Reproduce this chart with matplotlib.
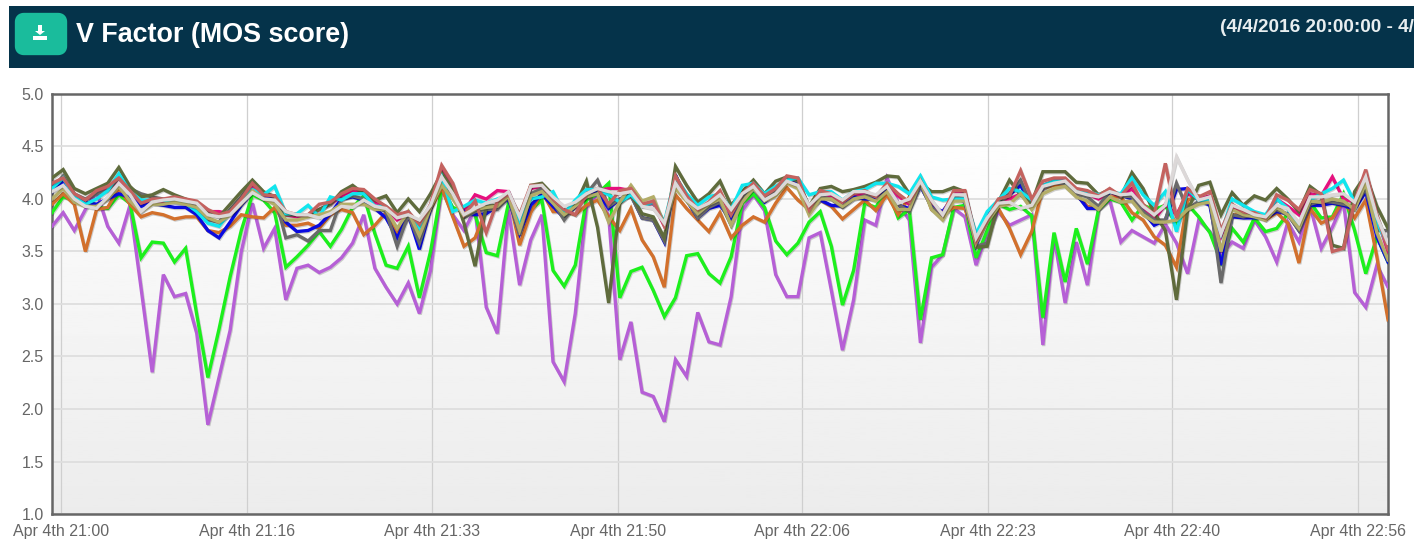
import matplotlib
matplotlib.use('Agg')
import matplotlib.pyplot as plt
import matplotlib.patheffects as pe
from matplotlib.patches import FancyBboxPatch, Rectangle, Polygon
import numpy as np

plt.rcParams['font.family'] = ['Liberation Sans', 'DejaVu Sans']

title = 'V Factor (MOS score)'
date_range = '(4/4/2016 20:00:00 - 4/'

y_ticks = [1.0, 1.5, 2.0, 2.5, 3.0, 3.5, 4.0, 4.5, 5.0]
x_ticks = [0.8, 17.5, 34.1, 50.8, 67.4, 84.1, 100.6, 117.3]
x_labels = ['Apr 4th 21:00', 'Apr 4th 21:16', 'Apr 4th 21:33', 'Apr 4th 21:50',
            'Apr 4th 22:06', 'Apr 4th 22:23', 'Apr 4th 22:40', 'Apr 4th 22:56']

minutes = list(range(121))

purple = [3.74, 3.87, 3.70, 3.90, 4.07, 3.74, 3.58, 3.94, 3.15, 2.35,
          3.28, 3.07, 3.10, 2.72, 1.85, 2.30, 2.75, 3.50, 3.96, 3.53,
          3.72, 3.04, 3.34, 3.37, 3.30, 3.35, 3.44, 3.58, 3.85, 3.34,
          3.16, 3.00, 3.20, 2.91, 3.32, 4.10, 3.85, 3.70, 3.90, 2.97,
          2.72, 3.90, 3.18, 3.61, 3.85, 2.45, 2.26, 2.91, 3.92, 4.05,
          3.84, 2.47, 2.83, 2.16, 2.12, 1.88, 2.47, 2.31, 2.92, 2.64,
          2.61, 3.07, 3.89, 4.04, 3.89, 3.28, 3.07, 3.07, 3.63, 3.68,
          3.13, 2.56, 3.04, 3.80, 3.75, 4.20, 3.96, 3.80, 2.63, 3.35,
          3.47, 3.91, 3.83, 3.37, 3.68, 3.88, 3.75, 3.80, 3.85, 2.61,
          3.64, 3.01, 3.59, 3.18, 3.90, 3.99, 3.59, 3.70, 3.64, 3.58,
          3.76, 3.58, 3.29, 3.80, 3.69, 3.47, 3.59, 3.53, 3.80, 3.64,
          3.40, 3.78, 3.59, 3.93, 3.53, 3.73, 3.97, 3.11, 2.97, 3.37,
          3.16]

green = [3.87, 4.02, 3.99, 3.94, 3.92, 3.91, 4.04, 3.96, 3.44, 3.59,
         3.58, 3.40, 3.53, 2.90, 2.30, 2.76, 3.26, 3.70, 4.04, 3.99,
         3.87, 3.35, 3.45, 3.56, 3.69, 3.55, 3.71, 3.92, 4.03, 3.67,
         3.37, 3.34, 3.55, 3.06, 3.50, 4.10, 3.92, 3.88, 3.85, 3.49,
         3.46, 3.96, 3.76, 3.90, 3.99, 3.32, 3.17, 3.37, 3.99, 4.05,
         4.15, 3.06, 3.31, 3.35, 3.13, 2.88, 3.06, 3.46, 3.48, 3.29,
         3.20, 3.45, 3.96, 4.05, 3.92, 3.60, 3.47, 3.58, 3.78, 3.88,
         3.55, 2.99, 3.32, 3.96, 3.92, 4.10, 3.82, 3.90, 2.85, 3.44,
         3.47, 3.92, 3.94, 3.44, 3.70, 3.95, 3.90, 3.93, 3.84, 2.87,
         3.68, 3.21, 3.72, 3.38, 3.90, 4.00, 3.97, 3.80, 3.94, 3.90,
         3.94, 3.75, 3.95, 3.83, 3.68, 3.40, 3.72, 3.59, 3.82, 3.69,
         3.72, 3.86, 3.75, 3.97, 3.82, 3.83, 4.05, 3.70, 3.29, 3.64,
         3.40]

orange = [3.95, 4.05, 3.95, 3.50, 3.90, 3.92, 4.10, 3.95, 3.83, 3.87,
          3.85, 3.81, 3.83, 3.83, 3.70, 3.68, 3.74, 3.85, 3.83, 3.82,
          3.92, 3.75, 3.75, 3.77, 3.72, 3.85, 3.90, 3.87, 3.66, 3.75,
          3.87, 3.68, 3.82, 3.70, 3.90, 4.11, 3.83, 3.55, 3.63, 3.90,
          3.93, 4.05, 3.56, 3.87, 4.07, 3.88, 3.88, 3.85, 3.94, 3.99,
          3.83, 3.70, 3.91, 3.61, 3.45, 3.16, 4.04, 3.91, 3.80, 3.69,
          3.87, 3.63, 3.75, 3.83, 3.78, 3.96, 4.11, 3.99, 3.90, 3.99,
          3.93, 3.81, 3.90, 3.99, 3.89, 4.04, 3.85, 4.02, 4.20, 3.90,
          3.85, 3.92, 3.91, 3.60, 3.82, 3.91, 3.72, 3.47, 3.69, 4.10,
          4.13, 4.13, 4.04, 3.93, 3.91, 4.02, 4.02, 3.87, 3.80, 3.64,
          3.56, 3.35, 3.99, 4.03, 3.95, 3.50, 3.85, 3.85, 3.85, 3.80,
          3.87, 3.77, 3.39, 3.91, 3.77, 3.82, 3.99, 3.82, 3.99, 3.45,
          2.85]

pink = [4.13, 4.18, 4.03, 3.99, 4.06, 4.10, 4.17, 4.06, 3.96, 3.98,
        3.98, 4.00, 3.98, 3.96, 3.88, 3.88, 3.86, 3.98, 4.12, 4.03,
        4.03, 3.85, 3.83, 3.84, 3.90, 3.95, 4.03, 4.08, 4.06, 3.97,
        3.92, 3.80, 3.86, 3.76, 3.93, 4.28, 4.12, 3.88, 4.04, 4.00,
        4.08, 4.07, 3.82, 4.10, 4.12, 3.98, 3.88, 3.92, 4.02, 4.08,
        4.10, 4.10, 4.08, 3.94, 3.96, 3.74, 4.18, 4.02, 3.88, 3.95,
        4.06, 3.84, 4.03, 4.13, 4.00, 4.08, 4.20, 4.18, 3.90, 4.05,
        4.03, 3.96, 4.03, 4.05, 4.02, 4.13, 4.03, 3.95, 4.15, 3.95,
        3.83, 4.05, 4.05, 3.62, 3.80, 3.97, 4.00, 4.05, 3.98, 4.13,
        4.17, 4.17, 4.07, 4.05, 4.00, 4.07, 4.02, 4.10, 3.92, 3.80,
        3.95, 3.85, 4.05, 4.00, 4.03, 3.65, 3.93, 3.87, 3.85, 3.82,
        4.00, 3.93, 3.85, 4.05, 4.03, 4.21, 4.00, 3.97, 4.25, 3.82,
        3.50]

blue = [4.07, 4.17, 4.02, 3.97, 3.95, 4.00, 4.05, 4.02, 3.93, 3.96,
        3.94, 3.92, 3.92, 3.85, 3.70, 3.63, 3.78, 3.94, 4.07, 4.00,
        4.00, 3.78, 3.69, 3.70, 3.75, 3.86, 4.00, 4.02, 3.99, 3.91,
        3.82, 3.63, 3.85, 3.52, 3.91, 4.18, 4.02, 3.88, 3.85, 3.86,
        3.93, 4.00, 3.67, 3.94, 4.05, 3.93, 3.82, 3.93, 4.02, 4.07,
        3.91, 4.00, 4.04, 3.82, 3.80, 3.59, 4.23, 3.99, 3.82, 3.91,
        3.94, 3.80, 3.99, 4.10, 3.97, 4.05, 4.17, 4.15, 3.90, 3.99,
        3.94, 3.93, 4.02, 4.00, 4.00, 4.09, 3.94, 3.91, 4.12, 3.93,
        3.88, 4.03, 3.97, 3.56, 3.83, 3.99, 4.04, 4.13, 3.93, 4.10,
        4.17, 4.17, 4.05, 3.91, 3.91, 4.07, 4.04, 4.00, 3.88, 3.75,
        3.80, 4.09, 4.10, 3.99, 3.94, 3.37, 3.83, 3.82, 3.82, 3.82,
        3.88, 3.86, 3.70, 3.94, 3.94, 3.96, 3.94, 3.90, 4.07, 3.64,
        3.40]

gray = [4.10, 4.22, 4.05, 4.00, 4.05, 4.08, 4.20, 4.10, 4.05, 4.02,
        4.00, 3.99, 3.97, 3.92, 3.80, 3.78, 3.90, 4.02, 4.17, 4.05,
        4.03, 3.63, 3.66, 3.60, 3.70, 3.70, 4.00, 4.03, 4.00, 3.93,
        3.88, 3.55, 3.85, 3.58, 3.92, 4.18, 4.03, 3.82, 3.88, 3.90,
        3.90, 4.02, 3.66, 4.05, 4.10, 3.97, 3.80, 3.95, 4.05, 4.18,
        3.93, 4.00, 4.03, 3.82, 3.80, 3.60, 4.22, 4.00, 3.82, 3.92,
        3.97, 3.75, 4.00, 4.15, 4.00, 4.07, 4.18, 4.12, 3.88, 4.02,
        4.00, 3.92, 4.00, 4.03, 4.03, 4.12, 3.95, 3.88, 4.13, 3.92,
        3.82, 4.02, 4.00, 3.55, 3.58, 3.95, 4.05, 4.18, 3.93, 4.10,
        4.15, 4.15, 4.05, 4.02, 3.93, 4.08, 4.03, 4.02, 3.88, 3.80,
        3.80, 4.15, 3.90, 3.98, 4.00, 3.20, 3.85, 3.83, 3.85, 3.82,
        3.90, 3.85, 3.70, 3.95, 3.98, 3.97, 3.95, 3.93, 4.10, 3.70,
        3.70]

olive = [4.20, 4.28, 4.10, 4.05, 4.10, 4.15, 4.30, 4.12, 4.02, 4.04,
         4.09, 4.04, 4.00, 3.96, 3.86, 3.83, 3.95, 4.07, 4.18, 4.07,
         4.02, 3.85, 3.85, 3.85, 3.90, 3.95, 4.07, 4.13, 4.05, 3.99,
         4.03, 3.87, 4.00, 3.88, 4.05, 4.25, 4.09, 3.77, 3.36, 3.93,
         3.94, 4.05, 3.75, 4.13, 4.15, 4.04, 3.85, 3.94, 4.17, 3.73,
         3.01, 3.96, 4.05, 3.86, 3.83, 3.63, 4.31, 4.13, 3.97, 4.05,
         4.17, 3.94, 4.07, 4.18, 4.05, 4.17, 4.21, 4.17, 3.93, 4.10,
         4.12, 4.07, 4.09, 4.12, 4.16, 4.22, 4.21, 4.05, 4.15, 4.07,
         4.07, 4.11, 4.07, 3.54, 3.55, 3.97, 4.18, 4.04, 3.96, 4.26,
         4.26, 4.26, 4.16, 4.15, 4.04, 4.09, 4.02, 4.25, 4.10, 3.87,
         3.70, 3.04, 3.89, 4.13, 4.16, 3.85, 4.06, 3.94, 4.03, 3.99,
         4.10, 4.00, 3.88, 4.12, 4.04, 3.56, 3.53, 4.07, 4.23, 3.93,
         3.72]

cyan = [4.10, 4.20, 4.02, 3.95, 4.00, 4.08, 4.24, 4.07, 3.99, 3.99,
        3.99, 3.97, 3.96, 3.88, 3.77, 3.74, 3.88, 3.97, 4.09, 4.04,
        4.12, 3.86, 3.86, 3.94, 3.83, 4.02, 3.99, 4.05, 4.05, 3.93,
        3.93, 3.83, 3.88, 3.72, 3.94, 4.21, 3.88, 3.93, 3.99, 3.96,
        4.00, 4.04, 3.78, 4.00, 4.02, 4.07, 3.86, 3.99, 4.09, 4.09,
        4.04, 3.97, 4.04, 3.93, 3.97, 3.78, 4.21, 4.05, 3.94, 4.02,
        4.05, 3.90, 4.13, 4.15, 4.05, 4.12, 4.18, 4.20, 4.04, 4.07,
        4.07, 3.99, 4.07, 4.09, 4.15, 4.15, 4.12, 4.05, 4.22, 4.02,
        3.99, 4.00, 4.00, 3.67, 3.88, 3.99, 4.10, 4.07, 3.99, 4.13,
        4.17, 4.17, 4.09, 4.07, 4.04, 4.07, 4.05, 4.20, 4.04, 3.94,
        4.07, 3.69, 4.09, 3.99, 3.99, 3.67, 4.00, 3.94, 3.88, 3.85,
        4.00, 3.91, 3.74, 3.99, 4.05, 4.10, 4.18, 3.97, 4.15, 3.78,
        3.55]

khaki = [4.00, 4.10, 3.97, 3.93, 3.93, 4.00, 4.12, 3.98, 3.88, 3.95,
         3.95, 3.97, 3.95, 3.92, 3.82, 3.78, 3.85, 3.95, 4.08, 4.00,
         3.95, 3.80, 3.80, 3.83, 3.85, 3.88, 3.95, 3.95, 3.95, 3.90,
         3.90, 3.72, 3.88, 3.65, 3.92, 4.13, 4.00, 3.84, 3.90, 3.92,
         3.93, 4.03, 3.70, 4.03, 4.07, 3.96, 3.85, 3.93, 4.02, 4.05,
         3.78, 3.97, 4.13, 3.98, 4.02, 3.75, 4.10, 3.98, 3.86, 3.95,
         4.00, 3.75, 3.97, 4.10, 3.98, 4.03, 4.15, 4.10, 3.85, 4.00,
         4.00, 3.93, 4.00, 4.02, 3.98, 4.07, 3.90, 3.90, 4.17, 3.90,
         3.80, 3.98, 3.98, 3.58, 3.78, 3.93, 3.95, 4.05, 3.90, 4.05,
         4.10, 4.12, 4.02, 3.98, 3.90, 4.02, 3.97, 3.98, 3.85, 3.78,
         3.78, 3.80, 3.90, 3.95, 3.97, 3.50, 3.90, 3.85, 3.83, 3.80,
         3.92, 3.85, 3.72, 3.98, 3.97, 4.00, 3.98, 3.90, 4.15, 3.68,
         3.42]

red = [4.15, 4.20, 4.05, 3.99, 4.08, 4.12, 4.20, 4.08, 3.96, 4.00,
       4.00, 4.02, 4.00, 3.98, 3.90, 3.85, 3.88, 4.00, 4.15, 4.04,
       4.03, 3.88, 3.85, 3.85, 3.95, 3.97, 4.05, 4.10, 4.09, 4.00,
       3.93, 3.85, 3.88, 3.76, 3.95, 4.32, 4.15, 3.85, 3.98, 3.68,
       3.98, 4.05, 3.85, 4.13, 4.13, 4.00, 3.90, 3.85, 4.05, 4.10,
       3.95, 4.08, 4.10, 3.95, 3.98, 3.75, 4.22, 4.03, 3.90, 3.97,
       4.08, 3.85, 4.05, 4.15, 4.03, 4.10, 4.22, 4.20, 3.90, 4.08,
       4.05, 3.97, 4.05, 4.08, 4.02, 4.15, 4.05, 3.97, 4.17, 3.98,
       3.85, 4.08, 4.08, 3.60, 3.80, 4.00, 4.03, 4.27, 4.00, 4.17,
       4.20, 4.20, 4.10, 4.08, 4.03, 4.10, 4.03, 4.15, 3.95, 3.85,
       4.34, 3.82, 4.10, 4.02, 4.07, 3.70, 3.95, 3.88, 3.87, 3.82,
       4.04, 3.99, 3.90, 4.09, 4.05, 3.50, 3.53, 3.97, 4.28, 3.85,
       3.52]

light = [4.07, 4.13, 4.00, 3.93, 3.91, 4.02, 4.15, 4.04, 3.88, 3.97,
         3.99, 4.00, 3.98, 3.96, 3.85, 3.83, 3.85, 3.96, 4.06, 4.00,
         3.99, 3.88, 3.85, 3.85, 3.82, 3.86, 3.93, 3.92, 3.99, 3.93,
         3.91, 3.82, 3.85, 3.80, 3.94, 4.21, 4.05, 3.85, 3.91, 3.96,
         3.99, 4.07, 3.83, 4.12, 4.13, 4.02, 3.93, 3.97, 4.05, 4.10,
         4.07, 4.05, 4.07, 3.93, 3.91, 3.77, 4.15, 3.99, 3.91, 3.96,
         4.04, 3.90, 4.05, 4.12, 3.99, 4.05, 4.17, 4.13, 3.94, 4.04,
         4.05, 3.99, 4.07, 4.07, 4.04, 4.12, 3.96, 4.00, 4.17, 3.99,
         3.85, 4.04, 4.04, 3.63, 3.82, 3.96, 3.97, 3.91, 3.94, 4.12,
         4.15, 4.17, 4.07, 4.04, 4.02, 4.07, 4.04, 4.05, 3.93, 3.85,
         3.94, 4.40, 4.18, 3.99, 4.02, 3.67, 3.94, 3.90, 3.85, 3.83,
         3.94, 3.91, 3.77, 4.02, 4.02, 4.04, 4.05, 3.97, 4.21, 3.83,
         3.58]

fig = plt.figure(figsize=(14.14, 5.39), dpi=100)
W, H = 1414, 539

# header drawn in pixel coordinates
bg = fig.add_axes([0, 0, 1, 1])
bg.set_xlim(0, W)
bg.set_ylim(H, 0)
bg.axis('off')
bg.add_patch(Rectangle((9, 6), W - 9, 62, color='#05334a', lw=0))
bg.add_patch(FancyBboxPatch((19, 17), 44, 34, boxstyle='round,pad=0,rounding_size=5',
                            fc='#1abc9c', ec='#1abc9c', lw=6, joinstyle='round'))
bg.add_patch(Polygon([(38, 25), (42, 25), (42, 31), (45, 31), (40, 35), (35, 31), (38, 31)], color='white', lw=0))
bg.add_patch(Rectangle((33, 36), 14, 4, color='white', lw=0))
bg.text(76, 35, title, color='white', fontsize=19.4, fontweight='bold', va='center', ha='left')
bg.text(1220, 27, date_range, color='#e8eef0', fontsize=13.7, fontweight='bold', va='center', ha='left')

ax = fig.add_axes([52 / W, (H - 514) / H, (1388 - 52) / W, 420 / H])
grad = np.linspace(1, 0.925, 200).reshape(-1, 1)
grad[:50] = 1 - (1 - grad[:50]) * 0.6
ax.imshow(grad, extent=[0, 120, 1, 5], aspect='auto', cmap='gray', vmin=0, vmax=1, zorder=0)

ax.set_xlim(0, 120)
ax.set_ylim(1, 5)
ax.set_yticks(y_ticks)
ax.set_xticks(x_ticks)
ax.set_xticklabels(x_labels)
ax.tick_params(length=0, labelsize=11.5, labelcolor='#666666')
ax.tick_params(axis='x', pad=7)
ax.tick_params(axis='y', pad=6)
ax.grid(True, axis='y', color='#dedede', lw=1.3, zorder=1)
ax.grid(True, axis='x', color='#cfcfcf', lw=0.9, zorder=1)
for s in ax.spines.values():
    s.set_color('#666666')
    s.set_linewidth(1.8)

series = [(purple, '#b65fd6'), (green, '#1cf01c'), (orange, '#d2702c'), (pink, '#e6107e'),
          (blue, '#0a0ae0'), (gray, '#6a6a6a'), (olive, '#5f6b3c'), (cyan, '#10e6ee'),
          (khaki, '#b3ad68'), (red, '#c4625f'), (light, '#dcd8d8')]
shadow = [pe.SimpleLineShadow(offset=(0.6, -0.8), alpha=0.18, shadow_color='black'), pe.Normal()]
for i, (values, color) in enumerate(series):
    ax.plot(minutes, values, color=color, lw=2.4, zorder=3 + i, solid_joinstyle='miter',
            path_effects=shadow)

fig.savefig('out.png', dpi=100)
